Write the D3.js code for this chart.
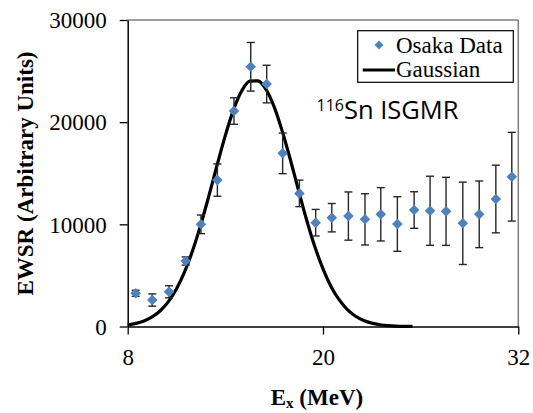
<!DOCTYPE html>
<html>
<head>
<meta charset="utf-8">
<script src="https://cdn.jsdelivr.net/npm/d3@7/dist/d3.min.js"></script>
<style>
  html, body { margin: 0; padding: 0; background: #fff; }
  svg { display: block; }
</style>
</head>
<body>
<svg id="chart" width="533" height="413"></svg>
<script>
// ---- data ----
const energies = [8.49, 9.51, 10.54, 11.56, 12.5, 13.51, 14.53, 15.56, 16.54, 17.52, 18.55, 19.55,
                  20.54, 21.56, 22.58, 23.55, 24.57, 25.6, 26.58, 27.56, 28.59, 29.6, 30.62, 31.6];
const ewsr = [3250, 2590, 3400, 6410, 10000, 14330, 21090, 25420, 23730, 16950, 13030, 10160,
              10650, 10810, 10490, 10980, 10030, 11400, 11330, 11270, 10100, 10980, 12480, 14660];
const ewsrErr = [300, 600, 590, 400, 910, 1580, 1300, 2380, 1840, 1990, 1300, 1300,
                 1390, 2360, 2510, 2610, 2670, 1790, 3380, 3330, 4030, 3260, 3310, 4340];
const gaussE = [8, 8.5, 9, 9.5, 10, 10.5, 11, 11.5, 12, 12.5, 13, 13.5, 14, 14.5, 15, 15.5, 16,
                16.5, 17, 17.5, 18, 18.5, 19, 19.5, 20, 20.5, 21, 21.5, 22, 22.5, 23, 23.5, 24, 24.5, 25, 25.5];
const gaussV = [162, 303, 543, 933, 1538, 2432, 3685, 5364, 7482, 10017, 12862, 15842, 18711, 21204,
                23044, 24024, 24050, 23200, 21500, 19100, 16300, 13300, 10400, 7800, 5650, 3900, 2600,
                1650, 1000, 590, 330, 175, 90, 42, 18, 8];
const xTicks = [8, 20, 32];
const yTicks = [0, 10000, 20000, 30000];
const seriesNames = ["Osaka Data", "Gaussian"];

// ---- layout ----
const svg = d3.select("#chart");
const L = 127.7, R = 518.3, T = 20, B = 326.5;
const x = d3.scaleLinear().domain([8, 32]).range([L, R]);
const y = d3.scaleLinear().domain([0, 30000]).range([B, T]);
const serif = "'Liberation Serif', 'Times New Roman', serif";
const blue = "#4F81BD";

// frame (top/right gray)
svg.append("line").attr("x1", L).attr("x2", R).attr("y1", T).attr("y2", T)
  .attr("stroke", "#7f7f7f").attr("stroke-width", 1.5);
svg.append("line").attr("x1", R).attr("x2", R).attr("y1", T).attr("y2", B)
  .attr("stroke", "#7f7f7f").attr("stroke-width", 1.5);

// axes
const yAxis = svg.append("g").attr("transform", `translate(${L},0)`)
  .call(d3.axisLeft(y).tickValues(yTicks).tickSize(8).tickSizeOuter(0).tickFormat(d3.format("d")));
const xAxis = svg.append("g").attr("transform", `translate(0,${B})`)
  .call(d3.axisBottom(x).tickValues(xTicks).tickSize(8).tickSizeOuter(0).tickFormat(d3.format("d")));
[yAxis, xAxis].forEach(g => {
  g.select(".domain").attr("stroke", "#000").attr("stroke-width", 1.5);
  g.selectAll(".tick line").attr("stroke", "#000").attr("stroke-width", 1.3);
  g.selectAll(".tick text").attr("font-family", serif).attr("font-size", 23).attr("fill", "#000");
});
yAxis.selectAll(".tick text").attr("x", -21).attr("dy", "0.34em");
xAxis.selectAll(".tick text").attr("y", 22).attr("dy", "0.71em");

// gaussian curve
const line = d3.line().x((d, i) => x(gaussE[i])).y(d => y(d)).curve(d3.curveMonotoneX);
svg.append("path").datum(gaussV).attr("d", line)
  .attr("fill", "none").attr("stroke", "#000").attr("stroke-width", 3.2).attr("stroke-linejoin", "round");

// error bars
const eb = svg.append("g").attr("stroke", "#262626").attr("stroke-width", 1.4);
energies.forEach((e, i) => {
  const cx = x(e), y1 = y(ewsr[i] + ewsrErr[i]), y2 = y(ewsr[i] - ewsrErr[i]);
  eb.append("line").attr("x1", cx).attr("x2", cx).attr("y1", y1).attr("y2", y2);
  eb.append("line").attr("x1", cx - 4).attr("x2", cx + 4).attr("y1", y1).attr("y2", y1);
  eb.append("line").attr("x1", cx - 4).attr("x2", cx + 4).attr("y1", y2).attr("y2", y2);
});

// markers
const diamond = d3.symbol(d3.symbolSquare, 56)();
svg.append("g").selectAll("path").data(ewsr).join("path")
  .attr("d", diamond)
  .attr("transform", (d, i) => `translate(${x(energies[i])},${y(d)}) rotate(45)`)
  .attr("fill", blue);

// legend
const lg = svg.append("g");
lg.append("rect").attr("x", 357.7).attr("y", 30.7).attr("width", 155.6).attr("height", 51.6)
  .attr("fill", "#fff").attr("stroke", "#000").attr("stroke-width", 1.2);
lg.append("path").attr("d", d3.symbol(d3.symbolSquare, 40)()).attr("transform", "translate(379,45) rotate(45)").attr("fill", blue);
lg.append("line").attr("x1", 362.7).attr("x2", 395).attr("y1", 70).attr("y2", 70)
  .attr("stroke", "#000").attr("stroke-width", 3);
lg.append("text").attr("x", 396).attr("y", 53.3).attr("font-family", serif).attr("font-size", 23).text(seriesNames[0]);
lg.append("text").attr("x", 396).attr("y", 77.3).attr("font-family", serif).attr("font-size", 23).text(seriesNames[1]);

// annotation
const ann = svg.append("text").attr("x", 316.5).attr("y", 119.3)
  .attr("font-family", "'Open Sans', sans-serif").attr("font-size", 25.5).attr("fill", "#000");
ann.append("tspan").attr("font-size", 16).attr("dy", -8.3).text("116");
ann.append("tspan").attr("dy", 8.3).text("Sn ISGMR");

// axis titles
svg.append("text").attr("transform", "translate(33,173.5) rotate(-90)")
  .attr("text-anchor", "middle").attr("font-family", serif).attr("font-weight", "bold").attr("font-size", 23)
  .text("EWSR (Arbitrary Units)");
const xt = svg.append("text").attr("x", 317).attr("y", 405).attr("text-anchor", "middle")
  .attr("font-family", serif).attr("font-weight", "bold").attr("font-size", 23);
xt.append("tspan").text("E");
xt.append("tspan").attr("font-size", 15).attr("dy", 3).text("x");
xt.append("tspan").attr("dy", -3).text(" (MeV)");
</script>
</body>
</html>
